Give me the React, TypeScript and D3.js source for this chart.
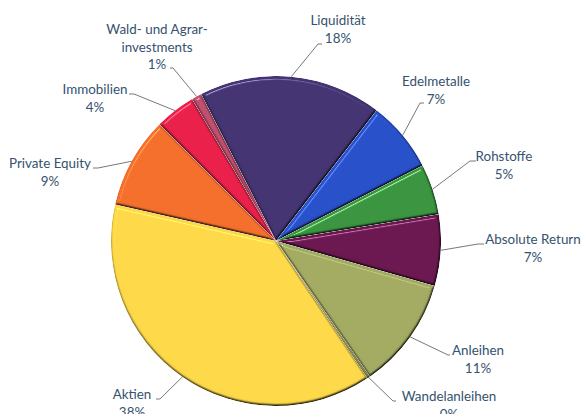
import { arc, pie, PieArcDatum } from "d3";

const width = 583;
const height = 414;
const centerX = 276;
const centerY = 241;
const radius = 165;
const startDeg = -27;

const categories = [
  "Liquidität",
  "Edelmetalle",
  "Rohstoffe",
  "Absolute Return",
  "Anleihen",
  "Wandelanleihen",
  "Aktien",
  "Private Equity",
  "Immobilien",
  "Wald- und Agrarinvestments",
];
const shares = [18, 7, 5, 7, 11, 0.3, 38, 9, 4, 1];
const percentLabels = ["18%", "7%", "5%", "7%", "11%", "0%", "38%", "9%", "4%", "1%"];
const colors = [
  "#443472",
  "#2850c8",
  "#3a9440",
  "#6c1850",
  "#a3ab62",
  "#8a9050",
  "#fdd848",
  "#f46f2c",
  "#e8204a",
  "#c05070",
];

// label placement: text centre, first baseline, elbow of the leader, end of the leader
const labelLayout = [
  { x: 338, y: 25, lines: ["Liquidität"], elbow: [318, 44], end: [322, 44] },
  { x: 436, y: 86, lines: ["Edelmetalle"], elbow: [420, 103], end: [424, 103] },
  { x: 504, y: 161, lines: ["Rohstoffe"], elbow: [470, 161], end: [476, 161] },
  { x: 533, y: 244, lines: ["Absolute Return"], elbow: [478, 244], end: [484, 244] },
  { x: 478, y: 355, lines: ["Anleihen"], elbow: [448, 355], end: [450, 355] },
  { x: 449, y: 401, lines: ["Wandelanleihen"], elbow: [393, 401], end: [396, 401] },
  { x: 132, y: 399, lines: ["Aktien"], elbow: [160, 399], end: [156, 399] },
  { x: 50, y: 168, lines: ["Private Equity"], elbow: [98, 168], end: [93, 168] },
  { x: 95, y: 94, lines: ["Immobilien"], elbow: [134, 94], end: [129, 94] },
  { x: 157, y: 34, lines: ["Wald- und Agrar-", "investments"], elbow: [173, 68], end: [170, 68] },
];

const toRad = (deg: number) => (deg * Math.PI) / 180;

const App = () => {
  const slices = pie<number>()
    .value((d) => d)
    .sort(null)
    .startAngle(toRad(startDeg))
    .endAngle(toRad(startDeg + 360))(shares);

  const sliceArc = arc<PieArcDatum<number>>().innerRadius(0).outerRadius(radius);
  const rimArc = arc<PieArcDatum<number>>().innerRadius(radius).outerRadius(radius);

  return (
    <svg
      width={width}
      height={height}
      style={{ position: "absolute", left: 0, top: 0, background: "#fff" }}
      fontFamily="Lato, 'Open Sans', sans-serif"
      fontSize={13.4}
    >
      <defs>
        <filter id="bevel" x="-5%" y="-5%" width="110%" height="110%" colorInterpolationFilters="sRGB">
          <feGaussianBlur in="SourceAlpha" stdDeviation="1.3" result="bump" />
          <feGaussianBlur in="SourceAlpha" stdDeviation="1.8" result="bumpWide" />
          <feDiffuseLighting
            in="bump"
            surfaceScale="2.2"
            diffuseConstant="1.155"
            lightingColor="#fff"
            result="diffuse"
          >
            <feDistantLight azimuth="245" elevation="60" />
          </feDiffuseLighting>
          <feComposite in="SourceGraphic" in2="diffuse" operator="arithmetic" k1="1" k2="0" k3="0" k4="0" result="lit" />
          <feSpecularLighting
            in="bumpWide"
            surfaceScale="5"
            specularConstant="1"
            specularExponent="30"
            lightingColor="#fff"
            result="spec"
          >
            <feDistantLight azimuth="245" elevation="45" />
          </feSpecularLighting>
          <feComposite in="spec" in2="SourceAlpha" operator="in" result="specIn" />
          <feComposite in="lit" in2="specIn" operator="arithmetic" k1="0" k2="1" k3="0.45" k4="-0.04" result="shaded" />
          <feComposite in="shaded" in2="SourceAlpha" operator="in" />
        </filter>
      </defs>

      <g transform={`translate(${centerX}, ${centerY})`}>
        {slices.map((d, i) => (
          <path key={categories[i]} d={sliceArc(d)!} fill={colors[i]} filter="url(#bevel)" />
        ))}
      </g>

      <g fill="none" stroke="#555" strokeWidth={0.8}>
        {slices.map((d, i) => {
          const [rx, ry] = rimArc.centroid(d);
          const { elbow, end } = labelLayout[i];
          return (
            <polyline
              key={categories[i]}
              points={`${centerX + rx},${centerY + ry} ${elbow[0]},${elbow[1]} ${end[0]},${end[1]}`}
            />
          );
        })}
      </g>

      <g fill="#35526e" textAnchor="middle">
        {labelLayout.map((l, i) => (
          <text key={categories[i]} x={l.x} y={l.y}>
            {[...l.lines, percentLabels[i]].map((line, j) => (
              <tspan key={line} x={l.x} dy={j === 0 ? 0 : 17.5}>
                {line}
              </tspan>
            ))}
          </text>
        ))}
      </g>
    </svg>
  );
};

export default App;
